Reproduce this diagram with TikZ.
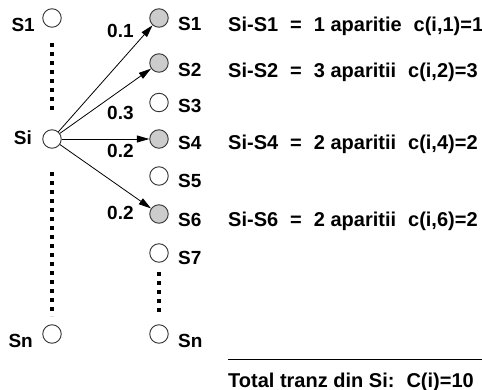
\documentclass[tikz,border=0pt]{standalone}
\usepackage{fontspec}
\setmainfont{Liberation Sans}
\usetikzlibrary{arrows.meta}
\begin{document}
\begin{tikzpicture}[x=1pt,y=-1pt,
  state/.style={circle,draw=black!80,line width=0.9pt,fill=white,
    minimum size=18.5pt,inner sep=0pt},
  visited/.style={state,fill=black!20},
  lbl/.style={font=\fontsize{19}{20}\selectfont\bfseries,inner sep=0pt},
  info/.style={font=\fontsize{20}{22}\selectfont\bfseries,inner sep=0pt,
    anchor=base west},
  trans/.style={-{Triangle[length=12.5pt,width=7pt]},line width=0.8pt},
  gapline/.style={line width=4pt,dash pattern=on 4pt off 5pt}
]
\path[use as bounding box] (0,0) rectangle (482,390);

% left column of states
\node[state] (L1) at (52,18) {};
\node[state] (Li) at (52,139) {};
\node[state] (Ln) at (52,334) {};
\node[lbl,anchor=base east] (tL1) at (35,32) {S1};
\node[lbl,anchor=base east] (tLi) at (32,145) {Si};
\node[lbl,anchor=base east] (tLn) at (33,347) {Sn};

% right column of states
\node[visited] (R1) at (159,18) {};
\node[visited] (R2) at (159,63) {};
\node[state]   (R3) at (159,102.5) {};
\node[visited] (R4) at (159,139) {};
\node[state]   (R5) at (159,176) {};
\node[visited] (R6) at (159,214) {};
\node[state]   (R7) at (159,253) {};
\node[state]   (Rn) at (159,334) {};
\node[lbl,anchor=base west] (tR1) at (178,31) {S1};
\node[lbl,anchor=base west] (tR2) at (178,77) {S2};
\node[lbl,anchor=base west] (tR3) at (178,113) {S3};
\node[lbl,anchor=base west] (tR4) at (178,150) {S4};
\node[lbl,anchor=base west] (tR5) at (178,188) {S5};
\node[lbl,anchor=base west] (tR6) at (178,227) {S6};
\node[lbl,anchor=base west] (tR7) at (178,265) {S7};
\node[lbl,anchor=base west] (tRn) at (178,347) {Sn};

% elided states
\coordinate (d1a) at (52,43);  \coordinate (d1b) at (52,110);
\coordinate (d2a) at (52,172); \coordinate (d2b) at (52,316);
\coordinate (d3a) at (159,272); \coordinate (d3b) at (159,316);
\draw[gapline] (d1a) -- (d1b);
\draw[gapline] (d2a) -- (d2b);
\draw[gapline] (d3a) -- (d3b);

% transitions with probabilities
\draw[trans] (Li) -- (R1);
\draw[trans] (Li) -- (R2);
\draw[trans] (Li) -- (R4);
\draw[trans] (Li) -- (R6);
\node[lbl,anchor=base west] (p1) at (107,38) {0.1};
\node[lbl,anchor=base west] (p2) at (107,120) {0.3};
\node[lbl,anchor=base west] (p4) at (107,158) {0.2};
\node[lbl,anchor=base west] (p6) at (107,220) {0.2};

% transition counts
\node[info] (c1) at (228,32)  {Si-S1\hspace{12pt}=\hspace{12pt}1 aparitie\hspace{12pt}c(i,1)=1};
\node[info] (c2) at (228,78)  {Si-S2\hspace{12pt}=\hspace{12pt}3 aparitii\hspace{12pt}c(i,2)=3};
\node[info] (c4) at (228,150) {Si-S4\hspace{12pt}=\hspace{12pt}2 aparitii\hspace{12pt}c(i,4)=2};
\node[info] (c6) at (228,227) {Si-S6\hspace{12pt}=\hspace{12pt}2 aparitii\hspace{12pt}c(i,6)=2};

% total
\coordinate (ra) at (228,359); \coordinate (rb) at (482,359);
\draw[line width=0.9pt] (ra) -- (rb);
\node[info] (tot) at (228,387) {Total tranz din Si:\hspace{12pt}C(i)=10};
\end{tikzpicture}
\end{document}
